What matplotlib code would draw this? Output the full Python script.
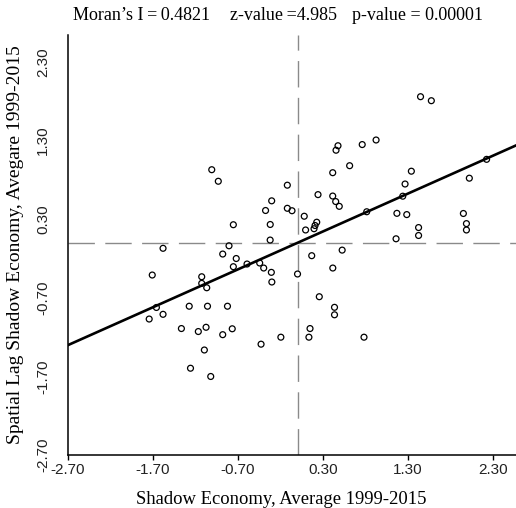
import numpy as np
import matplotlib
matplotlib.use("Agg")
import matplotlib.pyplot as plt

# Moran scatterplot: standardised shadow economy vs its spatial lag
moran_i = 0.4821
z_value = 4.985
p_value = 0.00001

x_mean = 0.0
y_mean = 0.0

shadow = [-1.009, -0.932, -0.120, -0.304, -0.376, -0.120, -0.065, -0.755, -0.321, -0.322,
          -1.582, -0.806, -0.880, -0.721, -0.755, -0.594, -0.445, -0.398, -0.308, -0.302,
          -1.709, -1.127, -1.127, -1.068, 0.000, 1.447, 1.574, 0.476, 0.453, 0.761,
          0.924, 0.613, 0.414, 1.339, 1.265, 2.224, 2.021, 0.241, 0.414, 0.449,
          0.491, 0.814, 1.238, 1.169, 1.285, 1.424, 1.424, 1.159, 1.951, 1.987,
          1.987, 0.079, 0.095, 0.194, 0.226, 0.206, 0.167, 0.525, 0.415, -1.660,
          -1.745, -1.582, -1.274, -1.059, -0.824, -1.366, -1.167, -1.076, -0.768, -0.880,
          -0.429, -0.196, -1.096, -1.259, -1.021, 0.256, 0.435, 0.435, 0.147, 0.134,
          0.782]
lag = [0.930, 0.783, 0.733, 0.534, 0.411, 0.439, 0.408, 0.230, 0.233, 0.035,
       -0.070, -0.038, -0.143, -0.200, -0.304, -0.270, -0.257, -0.321, -0.376, -0.499,
       -0.410, -0.432, -0.516, -0.572, -0.397, 1.859, 1.808, 1.235, 1.178, 1.250,
       1.308, 0.981, 0.892, 0.911, 0.748, 1.062, 0.822, 0.613, 0.595, 0.525,
       0.464, 0.395, 0.593, 0.375, 0.359, 0.194, 0.093, 0.051, 0.373, 0.244,
       0.163, 0.338, 0.163, 0.179, 0.262, 0.220, -0.164, -0.093, -0.321, -0.823,
       -0.970, -0.910, -0.807, -0.807, -0.807, -1.091, -1.129, -1.075, -1.094, -1.169,
       -1.290, -1.201, -1.364, -1.596, -1.701, -0.686, -0.821, -0.916, -1.091, -1.201,
       -1.201]

ticks = [-2.7, -1.7, -0.7, 0.3, 1.3, 2.3]

serif = ["Liberation Serif", "DejaVu Serif"]
narrow = ["Liberation Sans Narrow", "Liberation Sans", "DejaVu Sans"]

fig = plt.figure(figsize=(5.16, 5.08), dpi=100)
ax = fig.add_axes([68 / 516, 1 - 455 / 508, 1 - 68 / 516, (455 - 35) / 508])

# reference lines at the means
ax.axhline(y_mean, color="#8a8a8a", lw=1.0, dashes=(19, 7.5), zorder=1)
ax.axvline(x_mean, color="#8a8a8a", lw=1.0, dashes=(19, 7.5), zorder=1)

ax.scatter(shadow, lag, s=18, facecolors="none", edgecolors="black", linewidths=0.9, zorder=3)

# slope of the fitted line is Moran's I
ax.axline((x_mean, y_mean), slope=moran_i, color="black", lw=1.9, zorder=2)

ax.set_xlim(-2.7, 2.57)
ax.set_ylim(-2.7, 2.644)
ax.set_xticks(ticks)
ax.set_yticks(ticks)
ax.set_xticklabels(["%.2f" % t for t in ticks], family=narrow, fontsize=11, color="#222222")
ax.set_yticklabels(["%.2f" % t for t in ticks], family=narrow, fontsize=11, color="#222222",
                   rotation=90, va="center")
ax.tick_params(axis="x", length=3.6, width=1.0, pad=2)
ax.tick_params(axis="y", length=0, pad=13)

for side in ["top", "right"]:
    ax.spines[side].set_visible(False)
for side in ["left", "bottom"]:
    ax.spines[side].set_linewidth(1.1)

fig.text(281 / 516, 1 - 500 / 508, "Shadow Economy, Average 1999-2015", family=serif,
         fontsize=13.4, ha="center", va="center")
fig.text(16 / 516, 1 - 245 / 508, "Spatial Lag Shadow Economy, Avegare 1999-2015", family=serif,
         fontsize=14, ha="center", va="center", rotation=90)

fig.text(73 / 516, 1 - 15 / 508, "Moran\u2019s I\u2009=\u2009%.4f" % moran_i, family=serif,
         fontsize=13, ha="left", va="center")
fig.text(230 / 516, 1 - 15 / 508, "z-value\u2009=%.3f" % z_value, family=serif,
         fontsize=13, ha="left", va="center")
fig.text(352 / 516, 1 - 15 / 508, "p-value = %.5f" % p_value, family=serif,
         fontsize=13, ha="left", va="center")

fig.savefig("out.png", dpi=100)
